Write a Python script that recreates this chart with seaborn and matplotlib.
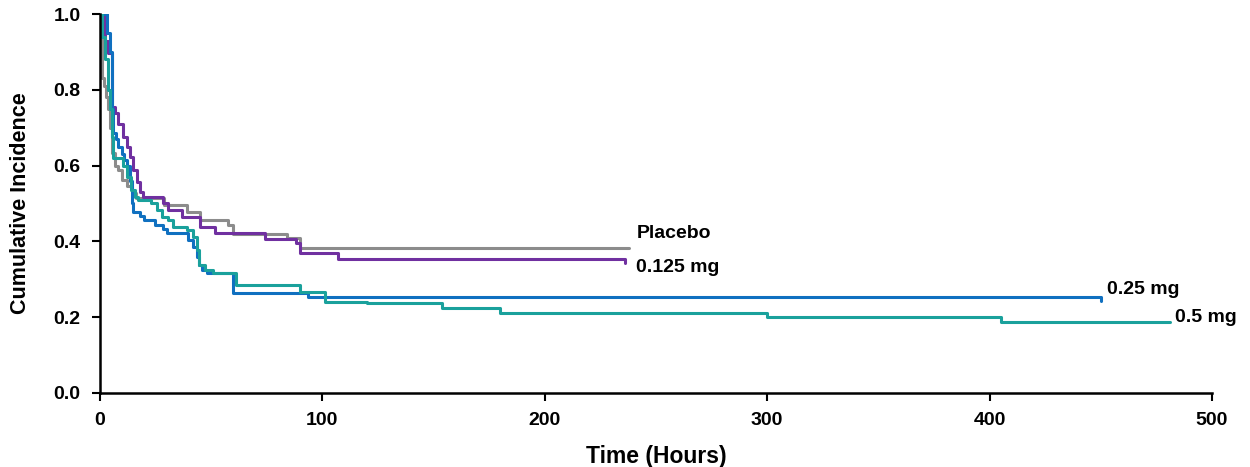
import matplotlib
matplotlib.use("Agg")
import matplotlib.pyplot as plt
import seaborn as sns
import pandas as pd

# step points (time in hours, cumulative incidence)
placebo_t = [0, 0.7, 1.0, 2.0, 2.8, 3.6, 4.5, 5.3, 6.7, 8.2, 9.7, 12, 14.2, 16, 29, 39, 45, 57.6, 60, 84, 90, 238]
placebo_v = [1.0, 0.93, 0.83, 0.81, 0.78, 0.75, 0.70, 0.633, 0.60, 0.588, 0.562, 0.545, 0.528, 0.514, 0.496, 0.478, 0.456, 0.443, 0.42, 0.41, 0.382, 0.382]

mg0125_t = [0, 2.2, 3.7, 5.3, 6.7, 8.2, 10.5, 12, 13.5, 15, 16.5, 18, 19.5, 28.5, 30.5, 37, 45, 51.7, 74, 88, 90, 107, 236]
mg0125_v = [1.0, 0.93, 0.897, 0.755, 0.74, 0.71, 0.676, 0.65, 0.623, 0.588, 0.557, 0.531, 0.516, 0.50, 0.483, 0.465, 0.439, 0.422, 0.405, 0.395, 0.369, 0.353, 0.343]

mg025_t = [0, 3, 4.5, 5.3, 6, 7, 8, 9.7, 11, 12.3, 13.5, 14.2, 14.5, 15, 18, 20, 24.7, 28.5, 30, 39.7, 42, 43.5, 44.5, 46, 48, 60, 93.7, 450]
mg025_v = [1.0, 0.95, 0.90, 0.75, 0.686, 0.67, 0.65, 0.63, 0.615, 0.60, 0.56, 0.54, 0.50, 0.478, 0.467, 0.456, 0.443, 0.434, 0.421, 0.404, 0.386, 0.36, 0.338, 0.325, 0.316, 0.263, 0.252, 0.243]

mg05_t = [0, 0.8, 2.4, 3.6, 4.5, 5.4, 6, 10.5, 12, 14, 15.7, 17, 23, 25.5, 27.7, 30.7, 33, 39, 42, 43.5, 44.5, 47, 51, 61, 90, 101, 120, 153.6, 180, 300, 405, 481]
mg05_v = [1.0, 0.94, 0.88, 0.80, 0.75, 0.675, 0.62, 0.60, 0.57, 0.535, 0.518, 0.51, 0.50, 0.483, 0.465, 0.456, 0.439, 0.43, 0.412, 0.377, 0.338, 0.325, 0.316, 0.285, 0.267, 0.241, 0.237, 0.223, 0.21, 0.20, 0.187, 0.187]

groups = ["Placebo", "0.125 mg", "0.25 mg", "0.5 mg"]
colors = {"Placebo": "#8c8c8c", "0.125 mg": "#7030a0", "0.25 mg": "#1070c0", "0.5 mg": "#1aa19c"}

frames = []
for name, t, v in [("Placebo", placebo_t, placebo_v), ("0.125 mg", mg0125_t, mg0125_v),
                   ("0.25 mg", mg025_t, mg025_v), ("0.5 mg", mg05_t, mg05_v)]:
    frames.append(pd.DataFrame({"time": t, "inc": v, "group": name}))
df = pd.concat(frames, ignore_index=True)

# label anchor positions (hours, incidence)
label_x = [241.5, 241, 453, 483.5]
label_y = [0.422, 0.33, 0.272, 0.198]

sns.set_style("ticks")
plt.rcParams["font.family"] = ["Liberation Sans", "DejaVu Sans"]
plt.rcParams["font.weight"] = "bold"
plt.rcParams["text.color"] = "black"
plt.rcParams["axes.labelcolor"] = "black"
plt.rcParams["xtick.color"] = "black"
plt.rcParams["ytick.color"] = "black"

fig, ax = plt.subplots(figsize=(12.5, 4.67), dpi=100)
fig.subplots_adjust(left=0.08, right=0.9696, top=0.970, bottom=0.1585)

for g in groups:
    sub = df[df["group"] == g]
    sns.lineplot(data=sub, x="time", y="inc", ax=ax, color=colors[g], lw=2.2,
                 drawstyle="steps-post", estimator=None, sort=False, legend=False)

for g, lx, ly in zip(groups, label_x, label_y):
    ax.text(lx, ly, g, fontsize=14, fontweight="bold", va="center", ha="left", color="black")

ax.set_xlim(0, 500)
ax.set_ylim(0, 1.0)
ax.set_xticks([0, 100, 200, 300, 400, 500])
ax.set_yticks([0.0, 0.2, 0.4, 0.6, 0.8, 1.0])
ax.set_yticklabels(["0.0", "0.2", "0.4", "0.6", "0.8", "1.0"])
ax.tick_params(direction="out", length=6, width=1.5, pad=8, labelsize=14, color="black", labelcolor="black")
for lab in ax.get_xticklabels() + ax.get_yticklabels():
    lab.set_fontweight("bold")

ax.set_xlabel("Time (Hours)", fontsize=16.5, fontweight="bold")
ax.set_ylabel("Cumulative Incidence", fontsize=15.5, fontweight="bold")
ax.xaxis.set_label_coords(0.5, -0.138)
ax.yaxis.set_label_coords(-0.062, 0.5)

sns.despine(ax=ax)
for s in ["left", "bottom"]:
    ax.spines[s].set_linewidth(1.8)
    ax.spines[s].set_color("black")

fig.savefig("out.png", dpi=100)
